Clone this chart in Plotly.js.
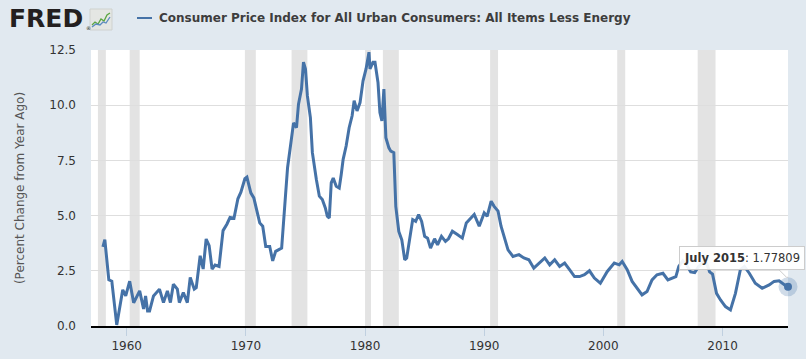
<!DOCTYPE html>
<html>
<head>
<meta charset="utf-8">
<script src="https://cdn.plot.ly/plotly-3.0.1.min.js"></script>
<style>html,body{margin:0;padding:0;background:#e1e9f0;}#chart{width:806px;height:359px;}</style>
</head>
<body>
<div id="chart"></div>
<script>
// ---- Data ----
const seriesName = "Consumer Price Index for All Urban Consumers: All Items Less Energy";
const yAxisTitle = "(Percent Change from Year Ago)";
const dates = [
"1958-01","1958-03","1958-07","1958-10","1959-03","1959-06","1959-09","1959-12",
"1960-04","1960-08","1960-11","1961-02","1961-06","1961-08","1961-10","1961-12",
"1962-04","1962-08","1962-10","1963-02","1963-06","1963-09","1963-12","1964-04",
"1964-06","1964-10","1965-02","1965-05","1965-09","1965-11","1966-03","1966-06",
"1966-09","1966-12","1967-03","1967-06","1967-10","1968-02","1968-06","1968-09",
"1969-01","1969-05","1969-08","1969-12","1970-02","1970-06","1970-09","1971-03",
"1971-06","1971-09","1972-01","1972-04","1972-07","1973-01","1973-02","1973-05",
"1973-07","1973-10","1974-01","1974-04","1974-06","1974-09","1974-11","1975-01",
"1975-03","1975-06","1975-08","1975-12","1976-03","1976-06","1976-09","1976-11",
"1977-01","1977-03","1977-05","1977-08","1977-11","1978-01","1978-03","1978-06",
"1978-09","1978-12","1979-02","1979-05","1979-08","1979-11","1980-02","1980-05",
"1980-06","1980-09","1980-11","1981-02","1981-04","1981-06","1981-08","1981-10",
"1982-01","1982-03","1982-06","1982-08","1982-11","1983-02","1983-05","1983-07",
"1983-10","1984-01","1984-04","1984-07","1984-10","1985-01","1985-04","1985-07",
"1985-11","1986-02","1986-06","1986-10","1987-01","1987-05","1987-10","1988-03",
"1988-07","1988-12","1989-03","1989-08","1990-01","1990-04","1990-08","1990-11",
"1991-03","1991-06","1991-09","1992-01","1992-06","1992-12","1993-05","1993-10",
"1994-03","1994-08","1995-02","1995-07","1995-12","1996-05","1996-10","1997-03",
"1997-08","1998-01","1998-06","1998-11","1999-04","1999-10","2000-05","2000-12",
"2001-05","2001-08","2002-01","2002-06","2002-11","2003-04","2003-09","2004-02",
"2004-07","2005-01","2005-06","2005-10","2006-02","2006-05","2006-09","2007-01",
"2007-05","2007-09","2008-01","2008-06","2008-09","2008-12","2009-03","2009-07",
"2009-11","2010-04","2010-09","2011-02","2011-07","2011-11","2012-04","2012-10",
"2013-05","2013-12","2014-05","2014-10","2015-01","2015-04","2015-07"
];
const values = [
3.58,3.91,2.09,2.03,0.05,0.95,1.64,1.36,
2.03,1.05,1.36,1.59,0.77,1.36,0.68,0.68,
1.36,1.59,1.67,1.06,1.59,1.06,1.89,1.67,
1.06,1.52,1.06,2.20,1.67,1.74,3.18,2.58,
3.94,3.64,2.58,2.76,2.70,4.32,4.62,4.92,
4.88,5.76,6.06,6.67,6.74,6.03,5.80,4.67,
4.52,3.60,3.60,2.95,3.38,3.53,4.06,5.95,
7.17,8.30,9.20,8.98,10.05,10.73,11.95,11.64,
10.42,9.44,7.85,6.64,5.88,5.73,5.35,4.97,
4.89,6.48,6.70,6.33,6.25,6.86,7.55,8.15,
8.98,9.52,10.20,9.74,10.12,11.10,11.64,12.40,
11.64,11.94,11.94,11.03,9.67,9.29,10.73,8.53,
8.07,7.92,7.85,5.42,4.28,3.90,3.00,3.08,
4.06,4.82,4.74,5.05,4.74,4.06,3.98,3.53,
3.95,3.68,4.06,3.83,3.95,4.29,4.14,3.98,
4.67,4.89,5.05,4.52,5.12,4.97,5.65,5.42,
5.20,4.52,4.06,3.45,3.15,3.23,3.08,3.00,
2.62,2.85,3.08,2.77,3.00,2.70,2.85,2.55,
2.24,2.24,2.32,2.50,2.17,1.94,2.47,2.85,
2.77,2.92,2.55,2.02,1.71,1.41,1.56,2.09,
2.32,2.39,2.09,2.17,2.24,2.70,2.95,2.75,
2.45,2.42,2.70,2.90,2.85,2.45,2.35,1.48,
1.18,0.88,0.73,1.48,2.55,2.70,2.39,1.94,
1.71,1.86,2.02,2.05,1.94,1.85,1.77809
];
const recessionStart = ["1957-08-01","1960-04-01","1969-12-01","1973-11-01","1980-01-01","1981-07-01","1990-07-01","2001-03-01","2007-12-01"];
const recessionEnd   = ["1958-04-01","1961-02-01","1970-11-01","1975-03-01","1980-07-01","1982-11-01","1991-03-01","2001-11-01","2009-06-01"];
const yTickVals = [0, 2.5, 5, 7.5, 10, 12.5];
const xTickVals = ["1960-01-01","1970-01-01","1980-01-01","1990-01-01","2000-01-01","2010-01-01"];
const xTickText = ["1960","1970","1980","1990","2000","2010"];
const tooltipLabel = "July 2015";

// ---- Layout helpers (pixel -> paper) ----
const W = 806, H = 359, L = 91, R = 18, T = 50, B = 33;
const PW = W - L - R, PH = H - T - B;
const px = X => (X - L) / PW;
const py = Y => 1 + (T - Y) / PH;

const lineColor = "#4572a7";
const font = "DejaVu Sans, Verdana, sans-serif";

const lastDate = dates[dates.length - 1];
const lastVal = values[values.length - 1];

const traces = [
  { x: dates, y: values, type: "scatter", mode: "lines",
    line: { color: lineColor, width: 3 }, hoverinfo: "skip", name: seriesName },
  { x: [lastDate], y: [lastVal], type: "scatter", mode: "markers",
    marker: { size: 19, color: "rgba(69,114,167,0.25)" }, hoverinfo: "skip", cliponaxis: false },
  { x: [lastDate], y: [lastVal], type: "scatter", mode: "markers",
    marker: { size: 8, color: lineColor }, hoverinfo: "skip", cliponaxis: false }
];

const shapes = recessionStart.map((s, i) => ({
  type: "rect", xref: "x", yref: "paper", x0: s, x1: recessionEnd[i], y0: 0, y1: 1,
  fillcolor: "#e3e3e3", line: { width: 0 }, layer: "below"
}));

// legend line
shapes.push({ type: "line", xref: "paper", yref: "paper", x0: px(137), x1: px(152), y0: py(18), y1: py(18),
  line: { color: lineColor, width: 2 } });
// FRED icon box
shapes.push({ type: "rect", xref: "paper", yref: "paper", x0: px(90), x1: px(112), y0: py(30), y1: py(9),
  fillcolor: "#e4e6e3", line: { color: "#cfd2cf", width: 1 } });
function pathOf(pts) { return pts.map((p, i) => (i ? "L" : "M") + px(p[0]) + "," + py(p[1])).join(" "); }
shapes.push({ type: "path", xref: "paper", yref: "paper",
  path: pathOf([[92,25],[95,22],[98,24],[101,19],[104,21],[107,15],[110,13]]),
  line: { color: "#5aa541", width: 1.3 } });
shapes.push({ type: "path", xref: "paper", yref: "paper",
  path: pathOf([[92,27],[96,24],[100,25],[103,22],[106,23],[110,17]]),
  line: { color: "#5b8bc0", width: 1.3 } });
// tooltip pointer
shapes.push({ type: "path", xref: "x", yref: "y", xsizemode: "pixel", ysizemode: "pixel",
  xanchor: lastDate, yanchor: lastVal, path: "M -9 17 L -1 9 L 8 17 Z",
  fillcolor: "rgba(255,255,255,0.92)", line: { color: "#cccccc", width: 1 } });

const annotations = [
  { xref: "paper", yref: "paper", x: px(7), y: py(19), xanchor: "left", yanchor: "middle", showarrow: false,
    text: "<b>FRED</b>", font: { family: "DejaVu Sans, Arial, sans-serif", size: 25, color: "#231f20" } },
  { xref: "paper", yref: "paper", x: px(84), y: py(28), xanchor: "left", yanchor: "middle", showarrow: false,
    text: "®", font: { family: font, size: 5, color: "#231f20" } },
  { xref: "paper", yref: "paper", x: px(157), y: py(18), xanchor: "left", yanchor: "middle", showarrow: false,
    text: "<b>" + seriesName + "</b>", font: { family: font, size: 12, color: "#3d3d3d" } },
  { xref: "x", yref: "y", x: lastDate, y: lastVal, xanchor: "right", yanchor: "bottom", xshift: 17, yshift: 17,
    showarrow: false, text: "<b>" + tooltipLabel + "</b>: " + lastVal,
    font: { family: font, size: 11.5, color: "#333" }, bgcolor: "rgba(255,255,255,0.92)",
    bordercolor: "#cccccc", borderwidth: 1, borderpad: 4 }
];

const layout = {
  width: W, height: H,
  margin: { l: L, r: R, t: T, b: B, pad: 0 },
  paper_bgcolor: "#e1e9f0", plot_bgcolor: "#ffffff",
  showlegend: false,
  font: { family: font, size: 12, color: "#333" },
  xaxis: {
    type: "date", range: ["1957-01-01", "2015-07-01"],
    tickvals: xTickVals, ticktext: xTickText,
    ticks: "outside", ticklen: 8, tickcolor: "#c0d0e0", tickwidth: 1,
    showgrid: false, zeroline: false,
    showline: true, linecolor: "#000000", linewidth: 2,
    tickfont: { family: font, size: 12, color: "#333" },
    fixedrange: true
  },
  yaxis: {
    range: [0, 12.5], tickvals: yTickVals, tickformat: ".1f",
    showgrid: true, gridcolor: "#dedede", gridwidth: 1,
    zeroline: false, showline: false, ticks: "", ticklabelstandoff: 14,
    tickfont: { family: font, size: 12, color: "#333" },
    title: { text: yAxisTitle, standoff: 22, font: { family: font, size: 12, color: "#555" } },
    automargin: false, fixedrange: true
  },
  shapes: shapes, annotations: annotations
};

Plotly.newPlot("chart", traces, layout, { displayModeBar: false, staticPlot: true });
</script>
</body>
</html>
